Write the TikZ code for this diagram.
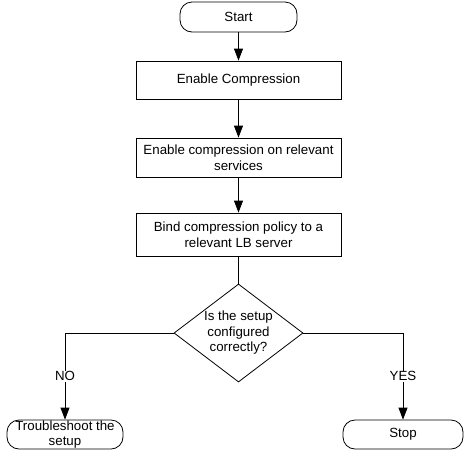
\documentclass[tikz,border=0pt]{standalone}
\usepackage{fontspec}
\setmainfont{Liberation Sans}
\usetikzlibrary{arrows.meta, positioning, shapes.geometric}

\begin{document}
\begin{tikzpicture}[x=1pt, y=-1pt, line width=0.8pt,
    every node/.style={font=\fontsize{13.3}{15.5}\selectfont},
    terminal/.style={rectangle, draw, rounded corners=12pt, minimum width=117pt, minimum height=30pt, inner sep=0pt, align=center},
    process/.style={rectangle, draw, minimum width=205pt, minimum height=39pt, inner sep=0pt, align=center},
    decision/.style={diamond, draw, aspect=1.316, minimum width=129pt, minimum height=98pt, inner sep=0pt, align=center},
    flow/.style={-{Triangle[length=12pt, width=9pt]}},
    answer/.style={fill=white, inner sep=1pt}]
    \useasboundingbox (0,0) rectangle (476,456);

    % steps
    \node[terminal] (start) at (238.5,17) {Start};
    \node[process, minimum height=38pt] (enable) at (238.5,80) {Enable Compression};
    \node[process] (services) at (238.5,157.5) {Enable compression on relevant\\services};
    \node[process, minimum height=43pt] (bind) at (238.5,234.5) {Bind compression policy to a\\relevant LB server};
    \node[decision] (check) at (238.5,333) {Is the setup\\configured\\correctly?};
    \node[terminal, minimum width=116pt, minimum height=29pt] (trouble) at (65,434.5) {Troubleshoot the\\setup};
    \node[terminal, minimum width=120pt, minimum height=29pt] (stop) at (403,434.5) {Stop};

    % connectors
    \draw[flow] (start) -- (enable);
    \draw[flow] (enable) -- (services);
    \draw[flow] (services) -- (bind);
    \draw (bind) -- (check);
    \draw[flow] (check.west) -| node[pos=0.75, answer] {NO} (trouble.north);
    \draw[flow] (check.east) -| node[pos=0.75, answer] {YES} (stop.north);
\end{tikzpicture}
\end{document}
